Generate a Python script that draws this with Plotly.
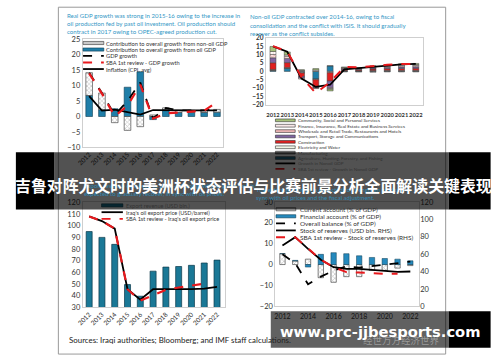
import plotly.graph_objects as go

W, H = 500, 362
years = list(range(2012, 2023))
year_labels = [str(y) for y in years]

# ---- Top-left: real GDP growth ----
oil_contrib = [6.8, 2.2, 2.5, 9.5, 14.5, -1.0, 2.2, 1.3, 1.3, 1.3, 1.4]
nonoil_contrib = [7.4, 5.4, -2.0, -4.5, -3.3, 0.5, 0.6, 0.7, 0.7, 0.7, 0.9]
gdp_growth = [14.2, 7.6, 0.5, 5.0, 11.0, -0.6, 2.8, 2.0, 2.0, 2.0, 2.3]
sba_gdp_growth = [14.0, 7.4, 0.1, 3.5, 10.3, -0.7, 1.0, 1.4, 1.6, 1.9, 4.7]
inflation = [6.6, 1.9, 2.2, 1.4, 0.6, 2.1, 2.0, 2.0, 2.0, 2.0, 2.0]

# ---- Top-right: non-oil GDP by sector ----
agriculture = [0.5, 1.8, -0.5, -4.5, 3.3, 0.3, 0.2, 0.3, 0.4, 0.4, 0.4]
manufacturing = [0.3, 0.2, -0.5, -0.5, -0.8, -0.3, -0.4, -0.5, -0.3, -0.3, -0.3]
electricity = [0.4, 0.3, 0.3, 0.3, 0.2, 0.2, 0.2, 0.3, 0.3, 0.3, 0.3]
construction = [4.0, 3.0, -2.0, -4.5, -5.0, 0.6, 0.5, 0.8, 1.0, 1.1, 1.2]
transport = [3.0, 2.5, -1.0, -0.5, -4.0, 0.5, 0.4, 0.6, 0.8, 0.9, 0.9]
wholesale = [2.0, 1.3, -0.6, -0.3, -0.6, 0.4, 0.3, 0.5, 0.6, 0.7, 0.7]
finance = [1.8, 0.8, 0.4, 0.6, -0.3, 0.3, 0.3, 0.5, 0.5, 0.6, 0.6]
community = [3.0, 1.8, 0.3, 0.8, -1.0, 0.4, 0.3, 0.4, 0.5, 0.6, 0.7]
nonoil_growth = [15.0, 11.8, -4.3, -9.3, -8.0, 1.2, 2.0, 2.8, 3.7, 4.2, 4.5]
sba_nonoil_growth = [15.2, 12.0, -3.5, -13.0, -6.4, 2.7, 2.4, 3.4, 4.0, 4.5, 4.4]

# ---- Bottom-left: exports ----
export_revenue = [95, 90, 84, 49.5, 39.5, 61, 64.5, 65, 66, 68, 70.5]
oil_export_price = [108, 104, 97.5, 45.5, 36.5, 45.5, 45.5, 45.3, 45.5, 46, 47.5]
sba_oil_price = [108, 104, 97.5, 45.5, 35.6, 40.5, 45, 47, 48.4, 50.2, None]

# ---- Bottom-right: balance of payments ----
current_account = [5.2, 1.7, 2.6, -6.3, -8.5, -5.8, -5.8, -2.8, -2.8, -1.7, -0.5]
financial_account = [0.0, 0.3, -1.2, 4.9, 5.7, 5.2, 4.2, 3.4, 2.9, 2.6, 1.8]
overall_balance = [4.9, 0.6, -9.4, -5.8, -2.9, -0.8, -1.5, -0.8, -0.2, 0.8, 1.4]
reserves = [70, 79.5, 66, 53.5, 45, 43, 43, 42, 40.5, 39.5, 40]
sba_reserves = [None, 79.5, 66, 53.5, 45, 39.3, 38.9, 38.1, 37.4, 37.4, None]

# ---- Texts ----
tl_title = ["Real GDP growth was strong in 2015-16 owing to the increase in",
            "oil production fed by past oil investment. Oil production should",
            "contract in 2017 owing to OPEC-agreed production cut."]
tr_title = ["Non-oil GDP contracted over 2014-16, owing to fiscal",
            "consolidation and the conflict with ISIS. It should gradually",
            "recover as the conflict subsides."]
bl_title = ["Export revenue collapsed in 2015-16 along with oil prices and is",
            "expected to gradually recover, in sync with oil prices."]
br_title = ["The external position is expected to strengthen gradually in",
            "sync with oil prices and the fiscal adjustment."]
tl_legend = ["Contribution to overall growth from non-oil GDP",
             "Contribution to overall growth from oil GDP",
             "GDP growth", "SBA 1st review - GDP growth", "Inflation (CPI, avg)"]
tr_legend = ["Community, Social and Personal Services",
             "Finance, Insurance, Real Estate and Business Services",
             "Wholesale and Retail Trade, Restaurants and Hotels",
             "Transport, Storage and Communications", "Construction",
             "Electricity and Water", "Manufacturing",
             "Agriculture, Hunting, Forestry, and Fishing",
             "Growth in Nonoil GDP", "SBA 1st review - Growth in Nonoil GDP"]
bl_legend = ["Export revenue (USD bln.)", "Iraq's oil export price (USD/barrel)",
             "SBA 1st review - Iraq's oil export price"]
br_legend = ["Current account (% of GDP)", "Financial account (% of GDP)",
             "Overall balance (% of GDP)", "Stock of reserves (USD bln. RHS)",
             "SBA 1st review - Stock of reserves (RHS)"]
sources = "Sources: Iraqi authorities; Bloomberg; and IMF staff calculations."
banner = "吉鲁对阵尤文时的美洲杯状态评估与比赛前景分析全面解读关键表现"
watermark = "www.prc-jjbesports.com"
faint_mark = "经世万方经济世界"


def X(px):
    return px / W


def Y(py):
    return 1 - py / H


TEAL = "#1f7ea8"
RED = "#e8191d"
HATCH = dict(shape="x", fgcolor="#7a7a7a", bgcolor="white", size=3, solidity=0.35)

fig = go.Figure()

# Top-left traces
fig.add_bar(x=years, y=oil_contrib, width=0.52, marker=dict(color=TEAL, line=dict(color="#0d3d52", width=0.6)),
            xaxis="x", yaxis="y")
fig.add_bar(x=years, y=nonoil_contrib, width=0.52,
            marker=dict(color="white", pattern=HATCH, line=dict(color="#333", width=0.6)),
            xaxis="x", yaxis="y")
fig.add_scatter(x=years, y=inflation, mode="lines", line=dict(color="black", width=1.8), xaxis="x", yaxis="y")
fig.add_scatter(x=years, y=gdp_growth, mode="lines", line=dict(color="black", width=1.8, dash="dash"),
                xaxis="x", yaxis="y")
fig.add_scatter(x=years, y=sba_gdp_growth, mode="lines", line=dict(color=RED, width=2.2, dash="dash"),
                xaxis="x", yaxis="y")

# Top-right traces
sector_series = [
    (agriculture, dict(color="#1f7ea8")),
    (manufacturing, dict(color="#9a9a9a", pattern=dict(shape="x", fgcolor="#222", bgcolor="#bbb", size=3, solidity=0.4))),
    (electricity, dict(color="#eef3e4", pattern=dict(shape="-", fgcolor="#9fb87a", bgcolor="#f4f8ee", size=3, solidity=0.3))),
    (construction, dict(color="#e02020")),
    (transport, dict(color="#8064a2")),
    (wholesale, dict(color="#f3c9c9", pattern=dict(shape="x", fgcolor="#d05a5a", bgcolor="#f7dede", size=3, solidity=0.3))),
    (finance, dict(color="white", pattern=dict(shape=".", fgcolor="#d98080", bgcolor="white", size=3, solidity=0.3))),
    (community, dict(color="#a6c27a")),
]
for vals, mk in sector_series:
    mk = dict(mk)
    mk["line"] = dict(color="#404040", width=0.5)
    fig.add_bar(x=years, y=vals, width=0.42, marker=mk, xaxis="x2", yaxis="y2")
fig.add_scatter(x=years, y=nonoil_growth, mode="lines", line=dict(color="black", width=1.8), xaxis="x2", yaxis="y2")
fig.add_scatter(x=years, y=sba_nonoil_growth, mode="lines", line=dict(color=RED, width=2.0, dash="dash"),
                xaxis="x2", yaxis="y2")

# Bottom-left traces
fig.add_bar(x=years, y=export_revenue, width=0.47, marker=dict(color="#1a7896", line=dict(color="#0b3a4a", width=0.7)),
            xaxis="x3", yaxis="y3")
fig.add_scatter(x=years, y=oil_export_price, mode="lines", line=dict(color="black", width=1.8), xaxis="x3", yaxis="y3")
fig.add_scatter(x=years, y=sba_oil_price, mode="lines", line=dict(color=RED, width=2.2, dash="dash"),
                xaxis="x3", yaxis="y3")

# Bottom-right traces
fig.add_bar(x=years, y=current_account, width=0.42,
            marker=dict(color="white", pattern=HATCH, line=dict(color="#333", width=0.6)), xaxis="x4", yaxis="y4")
fig.add_bar(x=years, y=financial_account, width=0.42, marker=dict(color="#2589bd", line=dict(color="#0d3d52", width=0.5)),
            xaxis="x4", yaxis="y4")
fig.add_scatter(x=years, y=overall_balance, mode="lines", line=dict(color="black", width=1.8, dash="dash"),
                xaxis="x4", yaxis="y4")
fig.add_scatter(x=years, y=reserves, mode="lines", line=dict(color="black", width=1.8), xaxis="x4", yaxis="y5")
fig.add_scatter(x=years, y=sba_reserves, mode="lines", line=dict(color=RED, width=2.0, dash="dash"),
                xaxis="x4", yaxis="y5")

fig.update_traces(showlegend=False, hoverinfo="skip")

BOX = dict(showline=True, mirror=True, linecolor="#cfcfcf", linewidth=1, showgrid=False, zeroline=False)
TICKF = dict(size=7.5, color="#333")

fig.update_layout(
    width=W, height=H, margin=dict(l=0, r=0, t=0, b=0),
    paper_bgcolor="white", plot_bgcolor="white", barmode="relative",
    font=dict(family="Lato", color="#333"), showlegend=False,
    xaxis=dict(domain=[X(77.7), X(220)], range=[2011.5, 2022.5], anchor="y", tickvals=years, ticktext=year_labels,
               tickangle=-45, tickfont=dict(size=6.5, color="#333"), **BOX),
    yaxis=dict(domain=[Y(147), Y(36.3)], range=[-10, 25], dtick=5, anchor="x", tickfont=TICKF, **BOX),
    xaxis2=dict(domain=[X(263), X(422)], range=[2011.5, 2022.5], anchor="y2", tickvals=years, ticktext=year_labels,
                ticks="outside", ticklen=4, tickcolor="rgba(0,0,0,0)", tickangle=0,
                tickfont=dict(size=5.8, color="#333", weight="bold"), **BOX),
    yaxis2=dict(domain=[Y(103.3), Y(35)], range=[-20, 20], dtick=5, anchor="x2",
                tickfont=dict(size=6.5, color="#333", weight="bold"), **BOX),
    xaxis3=dict(domain=[X(77.7), X(222)], range=[2011.5, 2022.65], anchor="y3", tickvals=years, ticktext=year_labels,
                tickangle=-45, tickfont=dict(size=6.5, color="#333"), **BOX),
    yaxis3=dict(domain=[Y(311), Y(203.5)], range=[30, 120], dtick=10, anchor="x3", tickfont=TICKF, **BOX),
    xaxis4=dict(domain=[X(272.7), X(418.3)], range=[2011.45, 2022.7], anchor="y4",
                tickvals=years[::2], ticktext=year_labels[::2], ticks="outside", ticklen=3, tickangle=0,
                tickcolor="rgba(0,0,0,0)", tickfont=dict(size=7, color="#333"), **BOX),
    yaxis4=dict(domain=[Y(310), Y(203)], range=[-20, 30], dtick=10, anchor="x4", tickfont=TICKF, **BOX),
    yaxis5=dict(domain=[Y(310), Y(203)], range=[0, 120], dtick=20, anchor="x4", overlaying="y4", side="right",
                tickfont=TICKF, showgrid=False, zeroline=False, showline=False),
)

shapes = []
annotations = []


def text(px, py, s, size, color="#333", xanchor="left", family=None, weight=None):
    f = dict(size=size, color=color)
    if family:
        f["family"] = family
    if weight:
        f["weight"] = weight
    annotations.append(dict(x=X(px), y=Y(py), xref="paper", yref="paper", text=s, showarrow=False,
                            xanchor=xanchor, yanchor="middle", font=f, borderpad=0))


def legend(labels, styles, x0, x1, xt, ys, size, h=3.2):
    for lab, st, py in zip(labels, styles, ys):
        kind, col = st[0], st[1]
        if kind == "bar":
            shapes.append(dict(type="rect", xref="paper", yref="paper", x0=X(x0), x1=X(x1),
                               y0=Y(py + h / 2), y1=Y(py - h / 2), fillcolor=col,
                               line=dict(color=st[2] if len(st) > 2 else "#333", width=0.6)))
        else:
            shapes.append(dict(type="line", xref="paper", yref="paper", x0=X(x0), x1=X(x1),
                               y0=Y(py), y1=Y(py), line=dict(color=col, width=1.8, dash=st[2])))
        text(xt, py, lab, size)


# titles
TITLE_C = "#3598c6"
for s, py in zip(tl_title, [11.7, 20, 28.3]):
    text(61, py, s, 6.1, TITLE_C)
for s, py in zip(tr_title, [13.3, 22.0, 30.3]):
    text(246, py, s, 6.1, TITLE_C)
for s, py in zip(bl_title, [186, 194]):
    text(78, py, s, 6.1, "#2f89b3")
for s, py in zip(br_title, [190, 198]):
    text(252, py, s, 6.0, "#2f89b3")

legend(tl_legend, [("bar", "#c9c9c9"), ("bar", TEAL, "#0d3d52"), ("line", "black", "dash"),
                   ("line", RED, "dash"), ("line", "black", "solid")],
       78, 99, 100.5, [40, 46.7, 53.3, 60, 66.7], 5.7)
legend(tr_legend, [("bar", "#a6c27a"), ("bar", "#f8e8e8"), ("bar", "#eeb5b5"), ("bar", "#8064a2"),
                   ("bar", "#e02020"), ("bar", "#eef3e4"), ("bar", "#777"), ("bar", "#1f6e8c"),
                   ("line", "black", "solid"), ("line", RED, "dash")],
       272.7, 292.7, 295, [119.3 + 5.52 * i for i in range(10)], 4.6, h=2.8)
legend(bl_legend, [("bar", "#1a7896", "#0b3a4a"), ("line", "black", "solid"), ("line", RED, "dash")],
       96.7, 118.3, 120, [206.5, 213.5, 220.3], 5.6)
legend(br_legend, [("bar", "#c9c9c9"), ("bar", "#2589bd", "#0d3d52"), ("line", "black", "dash"),
                   ("line", "black", "solid"), ("line", RED, "dash")],
       273.3, 293.3, 296.5, [210.5, 217.7, 225, 232.2, 239.2], 6.4)

text(63, 345, sources, 7.9, "#222")
text(360, 345, faint_mark, 9.5, "rgba(175,175,175,0.75)", family="Noto Sans CJK SC")

# outer frame of the pasted picture
shapes.append(dict(type="rect", xref="paper", yref="paper", x0=X(53), x1=X(445), y0=Y(359), y1=Y(3.3),
                   line=dict(color="#9a9a9a", width=1), fillcolor="rgba(0,0,0,0)", layer="above"))

# overlay banner
shapes.append(dict(type="rect", xref="paper", yref="paper", x0=X(10), x1=X(49), y0=Y(210.7), y1=Y(152),
                   fillcolor="black", line=dict(width=0), layer="above"))
shapes.append(dict(type="rect", xref="paper", yref="paper", x0=X(448), x1=X(490.5), y0=Y(210.7), y1=Y(152),
                   fillcolor="black", line=dict(width=0), layer="above"))
shapes.append(dict(type="rect", xref="paper", yref="paper", x0=X(49), x1=X(448), y0=Y(210.7), y1=Y(152),
                   fillcolor="rgba(0,0,0,0.68)", line=dict(width=0), layer="above"))
# watermark band
shapes.append(dict(type="rect", xref="paper", yref="paper", x0=X(448), x1=X(490.5), y0=Y(352.5), y1=Y(315),
                   fillcolor="black", line=dict(width=0), layer="above"))
shapes.append(dict(type="rect", xref="paper", yref="paper", x0=X(268), x1=X(448), y0=Y(352.5), y1=Y(315),
                   fillcolor="rgba(0,0,0,0.62)", line=dict(width=0), layer="above"))

text(250, 186.5, banner, 15.9, "white", xanchor="center", family="Noto Sans CJK SC", weight="bold")
text(379, 335.5, watermark, 14.7, "white", xanchor="center", family="DejaVu Sans", weight="bold")

fig.update_layout(shapes=shapes, annotations=annotations)
fig.write_html("out.html", config={"displayModeBar": False},
               post_script="document.body.style.margin='0';document.body.style.overflow='hidden';")
